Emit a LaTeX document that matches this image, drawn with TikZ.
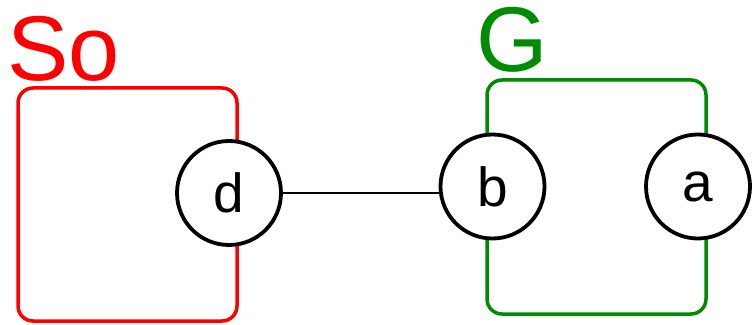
\documentclass[tikz,border=0pt]{standalone}
\usepackage{fontspec}
\setmainfont{Liberation Sans}
\definecolor{grpred}{RGB}{255,0,0}
\definecolor{grpgreen}{RGB}{0,140,0}
\begin{document}
\begin{tikzpicture}[x=1pt,y=1pt,
  grpbox/.style={line width=3.5pt,rounded corners=15pt},
  grplabel/.style={anchor=base west,inner sep=0pt,font=\fontsize{92}{92}\selectfont},
  vertex/.style={circle,draw=black,fill=white,line width=3.8pt,minimum size=104pt,inner sep=0pt,font=\fontsize{55}{55}\selectfont},
  edge/.style={line width=1.8pt,black}]
\useasboundingbox (0,0) rectangle (754,324);
\draw[grpbox,grpred] (18,3) rectangle (237,236);
\draw[grpbox,grpgreen] (487,10) rectangle (706,244);
\node[grplabel,text=grpred] (lso) at (7,243) {So};
\node[grplabel,text=grpgreen] (lg) at (476,252) {G};
\node[vertex] (d) at (229,131) {d};
\node[vertex] (b) at (492.5,137.5) {b};
\node[vertex] (a) at (698,137.5) {a};
\draw[edge] (d.east) -- (d.east -| b.west);
\end{tikzpicture}
\end{document}
